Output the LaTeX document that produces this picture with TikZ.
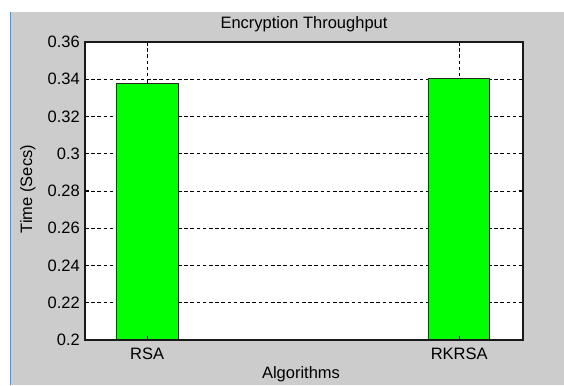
\documentclass[tikz,border=0pt]{standalone}
\usepackage{fontspec}
\setmainfont{Liberation Sans}

\definecolor{panel}{RGB}{204,204,204}
\definecolor{barfill}{RGB}{0,255,0}
\definecolor{edgeblue}{RGB}{51,153,255}

\tikzset{
    gridline/.style={black, line width=0.8pt, dash pattern=on 3.5pt off 2.7pt},
    txt/.style={inner sep=0pt, font=\fontsize{16.5}{19}\selectfont},
    bar/.style={fill=barfill, draw=black!85, line width=1pt},
}

\begin{document}
\begin{tikzpicture}[x=1pt, y=1pt]
        \useasboundingbox (0,0) rectangle (564,385);

        % pozadí okna
        \fill[panel] (11,0) rectangle (564,373);
        \draw[edgeblue, line width=1.5pt] (10.5,0) -- (10.5,373);

        \begin{scope}[yshift=-327.5pt, y=1862.5pt]
            % plocha grafu
            \fill[white] (85,0.2) coordinate (SW) rectangle (523,0.36) coordinate (NE);

            % mřížka
            \foreach \v in {0.22,0.24,0.26,0.28,0.3,0.32,0.34}
                \draw[gridline] (85,\v) -- (523,\v);
            \draw[gridline] (147.2,0.36) coordinate (gA) -- (147.2,0.2);
            \draw[gridline] (459.2,0.36) coordinate (gB) -- (459.2,0.2);

            % sloupce
            \draw[bar] (116.3,0.2) rectangle (178,0.3378) coordinate (topRSA);
            \draw[bar] (428.7,0.2) rectangle (489.7,0.3403) coordinate (topRKRSA);

            % osa y
            \foreach \v [count=\i] in {0.2,0.22,0.24,0.26,0.28,0.3,0.32,0.34,0.36} {
                \draw[black, line width=1pt] (85,\v) -- ++(4,0);
                \draw[black, line width=1pt] (523,\v) -- ++(-4,0);
                \node[txt, anchor=east] (ytick\i) at (80,\v) {\v};
            }
            \draw[black, line width=1pt] (147.2,0.2) -- ++(0,4pt) (459.2,0.2) -- ++(0,4pt);
            \draw[black, line width=1pt] (147.2,0.36) -- ++(0,-4pt) (459.2,0.36) -- ++(0,-4pt);

            % rámeček
            \draw[black!90, line width=1.2pt] (SW) rectangle (NE);
        \end{scope}

        % popisky
        \node[txt, anchor=base] (rsa) at (147.2,25) {RSA};
        \node[txt, anchor=base] (rkrsa) at (459.2,25) {RKRSA};
        \node[txt, anchor=base] (xlab) at (301,7) {Algorithms};
        \node[txt, rotate=90, anchor=base] (ylab) at (32,196) {Time (Secs)};
        \node[txt, anchor=base] (title) at (304,356) {Encryption Throughput};
\end{tikzpicture}
\end{document}
